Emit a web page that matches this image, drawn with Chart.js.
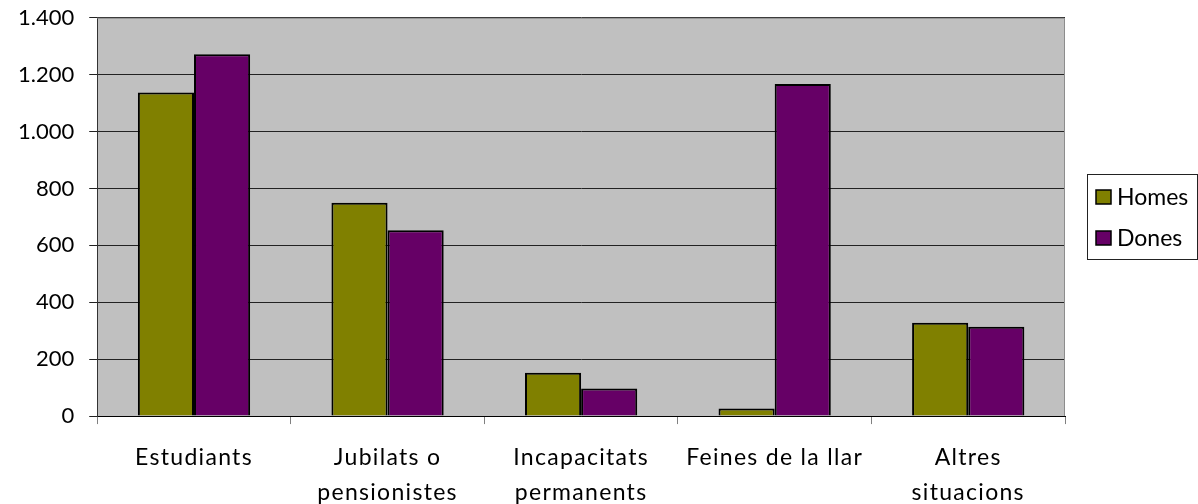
<!DOCTYPE html>
<html>
<head>
<meta charset="utf-8">
<script src="https://cdn.jsdelivr.net/npm/chart.js@4/dist/chart.umd.min.js"></script>
<style>
  html, body { margin: 0; padding: 0; background: #fff; }
  #wrap { width: 1198px; height: 504px; }
</style>
</head>
<body>
<div id="wrap"><canvas id="chart"></canvas></div>
<script>
const categories = [
  'Estudiants',
  ['Jubilats o', 'pensionistes'],
  ['Incapacitats', 'permanents'],
  'Feines de la llar',
  ['Altres', 'situacions']
];
const homes = [1137, 750, 152, 27, 328];
const dones = [1272, 653, 97, 1167, 314];
const yTickLabels = ['0', '200', '400', '600', '800', '1.000', '1.200', '1.400'];

// grey plot background + grey top/right frame
const plotFrame = {
  id: 'plotFrame',
  beforeDraw(chart) {
    const { ctx, chartArea: a } = chart;
    ctx.save();
    ctx.fillStyle = '#c0c0c0';
    ctx.fillRect(a.left, a.top, a.right - a.left, a.bottom - a.top);
    ctx.restore();
    // category labels are a little spaced out in the original
    const xs = chart.scales.x;
    if (!xs._spaced) {
      const orig = xs.drawLabels;
      xs.drawLabels = function (area) {
        this.ctx.save();
        this.ctx.letterSpacing = '1.3px';
        orig.call(this, area);
        this.ctx.restore();
      };
      xs._spaced = true;
    }
  },
  afterDatasetsDraw(chart) {
    const { ctx, chartArea: a } = chart;
    ctx.save();
    ctx.strokeStyle = '#8c8c8c';
    ctx.lineWidth = 1;
    ctx.beginPath();
    ctx.moveTo(a.left, a.top + 0.5);
    ctx.lineTo(a.right - 0.5, a.top + 0.5);
    ctx.lineTo(a.right - 0.5, a.bottom);
    ctx.stroke();
    ctx.restore();
  }
};

// boxed legend to the right of the plot
const sideLegend = {
  id: 'sideLegend',
  afterDraw(chart) {
    const { ctx, chartArea: a } = chart;
    const sets = chart.data.datasets;
    const left = a.right + 22;
    const rowH = 41;
    const height = sets.length * rowH + 3;
    const top = Math.round((a.top + a.bottom) / 2 - height / 2);
    ctx.save();
    ctx.strokeStyle = '#222';
    ctx.lineWidth = 1;
    ctx.strokeRect(left + 0.5, top + 0.5, chart.width - 1 - left, height);
    ctx.font = '23px Lato';
    ctx.textBaseline = 'middle';
    sets.forEach((ds, i) => {
      const cy = top + 23 + i * rowH;
      ctx.fillStyle = ds.backgroundColor;
      ctx.fillRect(left + 9, cy - 7, 15, 14);
      ctx.strokeStyle = '#000';
      ctx.lineWidth = 1.5;
      ctx.strokeRect(left + 9, cy - 7, 15, 14);
      ctx.fillStyle = '#000';
      ctx.fillText(ds.label, left + 30, cy + 1);
    });
    ctx.restore();
  }
};

const ctx = document.getElementById('chart').getContext('2d');
new Chart(ctx, {
  type: 'bar',
  data: {
    labels: categories,
    datasets: [
      {
        label: 'Homes',
        data: homes,
        backgroundColor: '#808000',
        borderColor: '#000',
        borderWidth: 2,
        borderSkipped: 'bottom'
      },
      {
        label: 'Dones',
        data: dones,
        backgroundColor: '#660066',
        borderColor: '#000',
        borderWidth: 2,
        borderSkipped: 'bottom'
      }
    ]
  },
  options: {
    responsive: true,
    maintainAspectRatio: false,
    animation: false,
    layout: { padding: { left: 3, top: 0, right: 133, bottom: -22 } },
    datasets: {
      bar: { categoryPercentage: 0.58, barPercentage: 1.0 }
    },
    scales: {
      x: {
        grid: {
          offset: true,
          drawOnChartArea: false,
          drawTicks: true,
          tickLength: 8,
          color: '#808080'
        },
        border: { color: '#000', width: 1 },
        ticks: {
          color: '#000',
          padding: 16,
          maxRotation: 0,
          autoSkip: false,
          font: { family: 'Lato', size: 23, lineHeight: 1.52 }
        }
      },
      y: {
        min: 0,
        max: 1400,
        grid: {
          color: '#222',
          tickLength: 8
        },
        border: { color: '#333', width: 1 },
        ticks: {
          stepSize: 200,
          color: '#000',
          padding: 15,
          font: { family: 'Lato', size: 22, lineHeight: 0.25 },
          callback: (value, i) => yTickLabels[i]
        }
      }
    },
    plugins: {
      legend: { display: false },
      tooltip: { enabled: false }
    }
  },
  plugins: [plotFrame, sideLegend]
});
</script>
</body>
</html>
